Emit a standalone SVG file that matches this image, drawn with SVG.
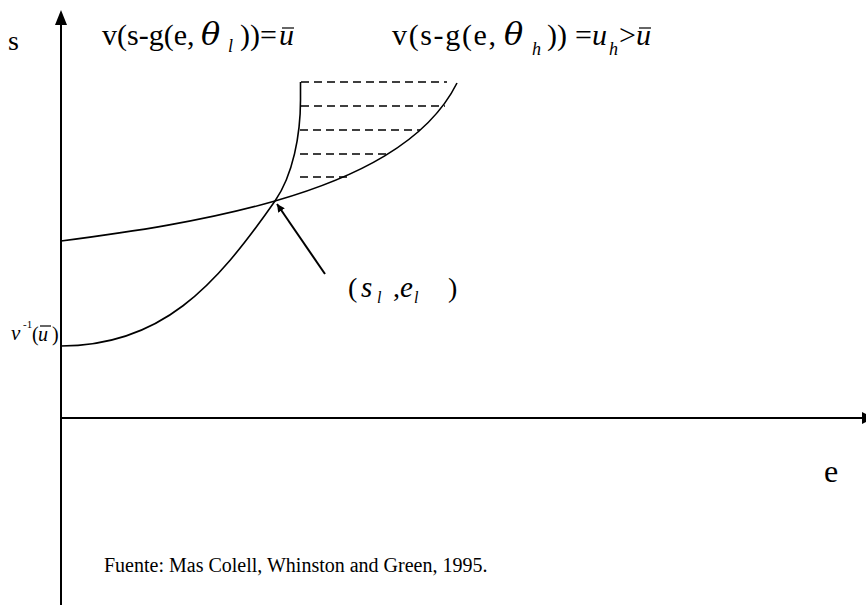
<svg xmlns="http://www.w3.org/2000/svg" width="866" height="605" viewBox="0 0 866 605">
<style>
text{font-family:"Liberation Serif","Times New Roman",serif;fill:#000}
.it{font-style:italic}
.th{font-family:"DejaVu Serif","Liberation Serif",serif;font-style:italic}
.ax{stroke:#000;stroke-width:2;fill:none}
.cv{stroke:#000;stroke-width:1.6;fill:none}
.ds{stroke:#000;stroke-width:1.5;stroke-dasharray:8 5;fill:none}
.bar{stroke:#000;stroke-width:1.2}
</style>
<defs>
<marker id="ah" viewBox="0 0 10 10" refX="10" refY="5" markerWidth="8" markerHeight="8" markerUnits="userSpaceOnUse" orient="auto">
<path d="M0,0 L10,5 L0,10 z" fill="#000"/>
</marker>
</defs>
<rect width="866" height="605" fill="#fff"/>
<g id="axes">
<line class="ax" x1="61" y1="605" x2="61" y2="22"/>
<polygon points="61,10 55,25 67,25" fill="#000"/>
<line class="ax" x1="61" y1="418" x2="864" y2="418"/>
<polygon points="874,418 862,412 862,424" fill="#000"/>
</g>
<g id="curve-low">
<path class="cv" d="M61,241 C131,232 205,221 275,201 C355,178 427,143 457,83"/>
</g>
<g id="curve-high">
<path class="cv" d="M61,346 C161,346 215,287 275,201 C293,175 300.5,135 300.5,100 L300.5,82"/>
</g>
<g id="hatch">
<line class="ds" x1="301" y1="82" x2="447" y2="82"/>
<line class="ds" x1="301" y1="106" x2="445" y2="106"/>
<line class="ds" x1="300" y1="130" x2="420" y2="130"/>
<line class="ds" x1="300" y1="154" x2="388" y2="154"/>
<line class="ds" x1="300" y1="177" x2="350" y2="177"/>
</g>
<g id="connectors">
<line x1="325" y1="274" x2="277" y2="204" stroke="#000" stroke-width="2" marker-end="url(#ah)"/>
</g>
<g id="label-s">
<text x="8" y="50" font-size="28">s</text>
</g>
<g id="label-e">
<text x="824" y="482" font-size="32">e</text>
</g>
<g id="label-ul">
<text x="102" y="45" font-size="30">v(s-g(e,</text>
<text x="201" y="45" font-size="32" class="th">θ</text>
<text x="228" y="52" font-size="18" class="it">l</text>
<text x="240" y="45" font-size="30">))=</text>
<text x="279" y="45" font-size="30" class="it">u</text>
<line class="bar" x1="282" y1="28" x2="294" y2="28"/>
</g>
<g id="label-uh">
<text x="392" y="45" font-size="30" textLength="104" lengthAdjust="spacing">v(s-g(e,</text>
<text x="504" y="45" font-size="32" class="th">θ</text>
<text x="532" y="55" font-size="18" class="it">h</text>
<text x="547" y="45" font-size="30">))</text>
<text x="575" y="45" font-size="30">=</text>
<text x="592" y="45" font-size="30" class="it">u</text>
<text x="609" y="55" font-size="18" class="it">h</text>
<text x="619" y="45" font-size="30">&gt;</text>
<text x="636" y="45" font-size="30" class="it">u</text>
<line class="bar" x1="639" y1="28" x2="651" y2="28"/>
</g>
<g id="label-vinv">
<text x="11" y="340" font-size="21" class="it">v</text>
<text x="23" y="328" font-size="11">-1</text>
<text x="32" y="341" font-size="20">(</text>
<text x="38" y="341" font-size="20" class="it">u</text>
<line class="bar" x1="40" y1="326" x2="51" y2="326"/>
<text x="52" y="341" font-size="20">)</text>
</g>
<g id="label-point">
<text x="348" y="297" font-size="28">(</text>
<text x="361" y="297" font-size="29" class="it">s</text>
<text x="377" y="303" font-size="16" class="it">l</text>
<text x="393" y="297" font-size="28">,</text>
<text x="400" y="297" font-size="29" class="it">e</text>
<text x="414" y="303" font-size="16" class="it">l</text>
<text x="448" y="297" font-size="28">)</text>
</g>
<g id="source">
<text x="104" y="572" font-size="20">Fuente: Mas Colell, Whinston and Green, 1995.</text>
</g>
</svg>
